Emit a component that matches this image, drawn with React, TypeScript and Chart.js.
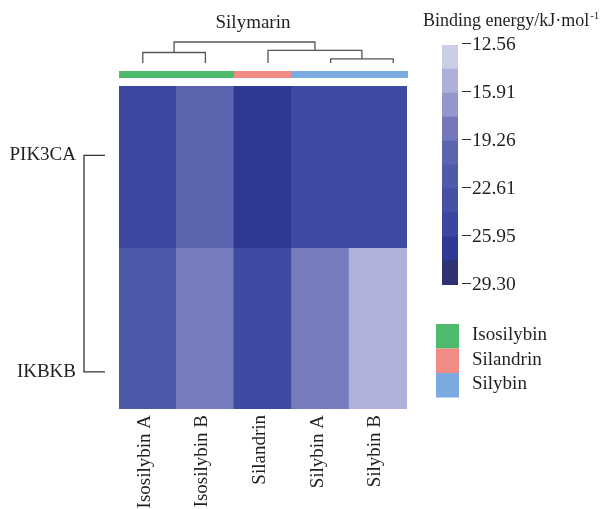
import React, { useEffect, useRef } from 'react';
import { Chart, registerables } from 'chart.js';
Chart.register(...registerables);

// ---------- data ----------
const compounds = ['Isosilybin A', 'Isosilybin B', 'Silandrin', 'Silybin A', 'Silybin B'];
const compoundGroups = ['Isosilybin', 'Isosilybin', 'Silandrin', 'Silybin', 'Silybin'];
const groups = ['Isosilybin', 'Silandrin', 'Silybin'];
const groupColors = ['#4dbb6b', '#f28b85', '#7aaadf'];
const genes = ['PIK3CA', 'IKBKB'];
const pik3caValues = [-25.0, -20.0, -26.8, -24.4, -24.4];
const ikbkbValues = [-21.8, -18.2, -24.6, -18.2, -15.0];
const geneValues = [pik3caValues, ikbkbValues];
const geneRows = [[1, 2], [0, 1]];
const geneLeafPos = [1.57, 0.23];
const colorbarMin = -29.3;
const colorbarMax = -12.56;
const colorbarTicks = [-12.56, -15.91, -19.26, -22.61, -25.95, -29.3];
const bandColors = ['#2e3270', '#2f3892', '#3c46a0', '#4450a5', '#4d5aaa', '#5c64b0', '#7378bb', '#9397cb', '#adb0d8', '#cbcde6'];
// column dendrogram merges: [childA, childB, height]; new nodes numbered after leaves
const colMerges = [[3, 4, 0.2], [0, 1, 0.5], [2, 5, 0.6], [6, 7, 1.0]];
const chartTitle = 'Silymarin';
const colorbarTitle = 'Binding energy/kJ·mol';
const colorbarTitleSup = '-1';

const FONT = '"Liberation Serif", "Times New Roman", serif';
const TEXT = '#231f20';

function hexToRgb(h: string) {
  const n = parseInt(h.slice(1), 16);
  return [(n >> 16) & 255, (n >> 8) & 255, n & 255];
}
function colorFor(v: number) {
  const step = (colorbarMax - colorbarMin) / bandColors.length;
  const t = (v - colorbarMin) / step - 0.5;
  const i = Math.max(0, Math.min(bandColors.length - 2, Math.floor(t)));
  const f = Math.max(0, Math.min(1, t - i));
  const a = hexToRgb(bandColors[i]);
  const b = hexToRgb(bandColors[i + 1]);
  const c = a.map((x, k) => Math.round(x + (b[k] - x) * f));
  return `rgb(${c[0]},${c[1]},${c[2]})`;
}

const heatmapDecor = {
  id: 'heatmapDecor',
  afterDraw(chart: any) {
    const ctx = chart.ctx;
    const xs = chart.scales.x;
    const ys = chart.scales.y;
    const area = chart.chartArea;
    const w = xs.getPixelForValue(1) - xs.getPixelForValue(0);
    ctx.save();
    // annotation bar
    compounds.forEach((_, i) => {
      const c = xs.getPixelForValue(i);
      ctx.fillStyle = groupColors[groups.indexOf(compoundGroups[i])];
      ctx.fillRect(Math.floor(c - w / 2), area.top - 15, Math.ceil(w) + 1, 7);
    });
    // column dendrogram
    const cx = (area.left + area.right) / 2;
    const y0 = area.top - 23;
    const unit = 21;
    const nodes: { x: number; y: number }[] = compounds.map((_, i) => ({
      x: cx + 5 + (xs.getPixelForValue(i) - cx) * 1.087,
      y: y0,
    }));
    ctx.strokeStyle = '#555';
    ctx.lineWidth = 1.3;
    colMerges.forEach(([a, b, h]) => {
      const na = nodes[a];
      const nb = nodes[b];
      const ym = y0 - h * unit;
      ctx.beginPath();
      ctx.moveTo(na.x, na.y);
      ctx.lineTo(na.x, ym);
      ctx.lineTo(nb.x, ym);
      ctx.lineTo(nb.x, nb.y);
      ctx.stroke();
      nodes.push({ x: (na.x + nb.x) / 2, y: ym });
    });
    // title
    ctx.fillStyle = TEXT;
    ctx.font = `19px ${FONT}`;
    ctx.textAlign = 'center';
    ctx.textBaseline = 'middle';
    ctx.fillText(chartTitle, cx - 10, 23);
    // row dendrogram
    const ya = ys.getPixelForValue(geneLeafPos[0]);
    const yb = ys.getPixelForValue(geneLeafPos[1]);
    const xv = area.left - 35;
    const xt = area.left - 14;
    ctx.strokeStyle = '#333';
    ctx.beginPath();
    ctx.moveTo(xt, ya);
    ctx.lineTo(xv, ya);
    ctx.lineTo(xv, yb);
    ctx.lineTo(xt, yb);
    ctx.stroke();
    ctx.restore();
  },
};

const colorbarDecor = {
  id: 'colorbarDecor',
  afterDraw(chart: any) {
    const ctx = chart.ctx;
    const area = chart.chartArea;
    ctx.save();
    ctx.fillStyle = TEXT;
    ctx.font = `18px ${FONT}`;
    ctx.textAlign = 'left';
    ctx.textBaseline = 'alphabetic';
    const tx = area.left - 19;
    ctx.fillText(colorbarTitle, tx, 26);
    const tw = ctx.measureText(colorbarTitle).width;
    ctx.font = `11px ${FONT}`;
    ctx.fillText(colorbarTitleSup, tx + tw + 1, 19);
    // legend
    const lx = area.left - 6;
    const ly = area.bottom + 39;
    const sh = 24.5;
    groups.forEach((g, i) => {
      ctx.fillStyle = groupColors[i];
      ctx.fillRect(lx, ly + i * sh, 23, sh);
      ctx.fillStyle = TEXT;
      ctx.font = `19px ${FONT}`;
      ctx.textBaseline = 'middle';
      ctx.fillText(g, lx + 36, ly + i * sh + sh / 2 - 1);
    });
    ctx.restore();
  },
};

export default function App() {
  const heatRef = useRef<HTMLCanvasElement>(null);
  const barRef = useRef<HTMLCanvasElement>(null);

  useEffect(() => {
    const heat = new Chart(heatRef.current as HTMLCanvasElement, {
      type: 'bar',
      data: {
        labels: compounds,
        datasets: genes.map((g, gi) => ({
          label: g,
          data: geneValues[gi].map(() => geneRows[gi] as any),
          backgroundColor: geneValues[gi].map(colorFor),
          borderWidth: 0,
          inflateAmount: 0.6,
          grouped: false,
          barPercentage: 1,
          categoryPercentage: 1,
        })) as any,
      },
      options: {
        animation: false,
        responsive: false,
        layout: { padding: { left: 0, right: 197, top: 86, bottom: 0 } },
        plugins: { legend: { display: false }, tooltip: { enabled: false }, title: { display: false } },
        scales: {
          x: {
            grid: { display: false, drawTicks: false },
            border: { display: false },
            ticks: { font: { family: FONT, size: 19 }, color: TEXT, minRotation: 90, maxRotation: 90, padding: 6, labelOffset: -3, autoSkip: false },
            afterFit: (s: any) => { s.height = 100; },
          },
          y: {
            min: 0,
            max: 2,
            grid: { display: false, drawTicks: false },
            border: { display: false },
            afterBuildTicks: (s: any) => { s.ticks = geneLeafPos.map((v) => ({ value: v })); },
            ticks: {
              font: { family: FONT, size: 19 },
              color: TEXT,
              padding: 43,
              callback: (v: any) => genes[geneLeafPos.indexOf(Number(v))] ?? '',
            },
            afterFit: (s: any) => { s.width = 119; },
          },
        },
      },
      plugins: [heatmapDecor],
    });

    const step = (colorbarMax - colorbarMin) / bandColors.length;
    const bar = new Chart(barRef.current as HTMLCanvasElement, {
      type: 'bar',
      data: {
        labels: [''],
        datasets: bandColors.map((c, i) => ({
          data: [[colorbarMin + i * step, colorbarMin + (i + 1) * step]] as any,
          backgroundColor: c,
          borderWidth: 0,
          grouped: false,
          barPercentage: 1,
          categoryPercentage: 1,
        })) as any,
      },
      options: {
        animation: false,
        responsive: false,
        layout: { padding: { left: 442, right: 46, top: 45, bottom: 224 } },
        plugins: { legend: { display: false }, tooltip: { enabled: false } },
        scales: {
          x: { display: false },
          y: {
            position: 'right',
            min: colorbarMin,
            max: colorbarMax,
            grid: { display: false, drawTicks: false },
            border: { display: false },
            afterBuildTicks: (s: any) => { s.ticks = colorbarTicks.map((v) => ({ value: v })); },
            ticks: {
              font: { family: FONT, size: 19.5 },
              color: TEXT,
              padding: 3,
              callback: (v: any) => '\u2212' + Math.abs(Number(v)).toFixed(2),
            },
            afterFit: (s: any) => { s.width = 100; },
          },
        },
      },
      plugins: [colorbarDecor],
    });

    return () => {
      heat.destroy();
      bar.destroy();
    };
  }, []);

  return (
    <div style={{ position: 'absolute', left: 0, top: 0, width: 604, height: 509, background: '#fff' }}>
      <canvas ref={heatRef} width={604} height={509} style={{ position: 'absolute', left: 0, top: 0 }} />
      <canvas ref={barRef} width={604} height={509} style={{ position: 'absolute', left: 0, top: 0 }} />
    </div>
  );
}
